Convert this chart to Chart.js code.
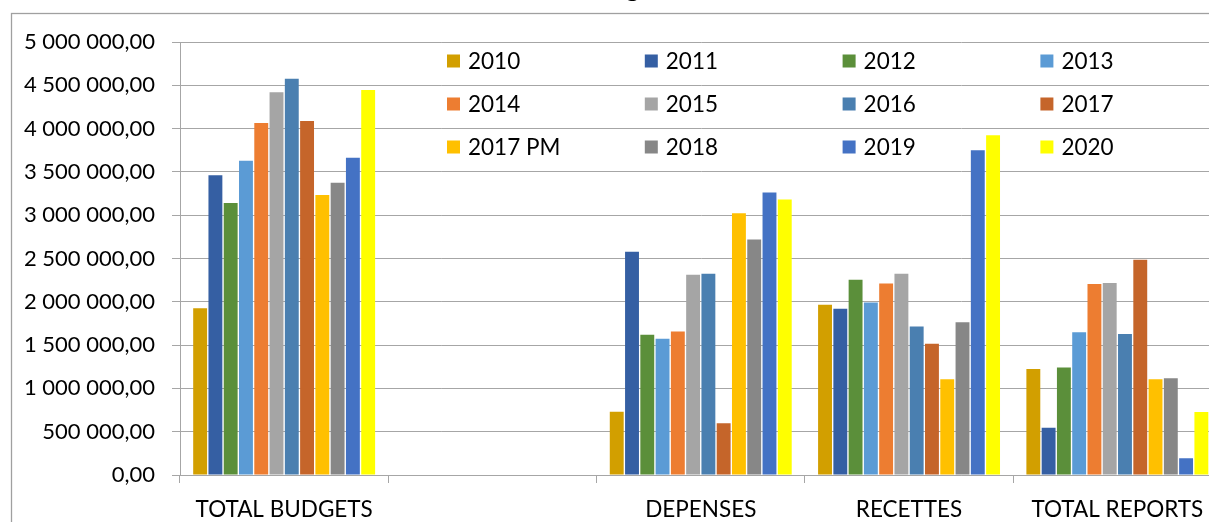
<!DOCTYPE html>
<html>
<head>
<meta charset="utf-8">
<script src="https://cdn.jsdelivr.net/npm/chart.js@4.4.1/dist/chart.umd.min.js"></script>
<style>
  html, body { margin: 0; padding: 0; background: #fff; }
  #wrap { position: relative; width: 1209px; height: 522px; overflow: hidden; }
  #chart { position: absolute; left: 0; top: -30px; }
</style>
</head>
<body>
<div id="wrap"><canvas id="chart" width="1240" height="560"></canvas></div>
<script>
// categories on the x axis (the second one is empty in the sheet)
const categories = ['TOTAL BUDGETS', '', 'DEPENSES', 'RECETTES', 'TOTAL REPORTS'];

// one series per year
const years = ['2010', '2011', '2012', '2013', '2014', '2015', '2016', '2017', '2017 PM', '2018', '2019', '2020'];
const colors = ['#D29F00', '#355FA3', '#5B8F3A', '#5B9BD5', '#ED7D31', '#A5A5A5',
                '#4A7FB0', '#C5652A', '#FFC000', '#878787', '#4472C4', '#FFFF00'];

// values per category, in the order of years
const totalBudgets = [1925000, 3461000, 3141000, 3629000, 4065000, 4419000, 4576000, 4088000, 3233000, 3375000, 3664000, 4446000];
const depenses     = [730000, 2577000, 1619000, 1573000, 1657000, 2311000, 2323000, 598000, 3023000, 2719000, 3262000, 3181000];
const recettes     = [1965000, 1919000, 2254000, 1992000, 2211000, 2323000, 1715000, 1515000, 1106000, 1764000, 3750000, 3924000];
const totalReports = [1224000, 547000, 1240000, 1648000, 2205000, 2217000, 1628000, 2487000, 1105000, 1117000, 193000, 727000];

const yTickLabels = ['0,00', '500 000,00', '1 000 000,00', '1 500 000,00', '2 000 000,00', '2 500 000,00',
                     '3 000 000,00', '3 500 000,00', '4 000 000,00', '4 500 000,00', '5 000 000,00'];

const titleText = 'Budgets';
const FONT = 'Lato, "Open Sans", sans-serif';
const gridColor = '#A6A6A6';

const datasets = years.map((y, i) => ({
    label: y,
    data: [totalBudgets[i], null, depenses[i], recettes[i], totalReports[i]],
    backgroundColor: colors[i],
    borderWidth: 0
}));

// frame + title (mostly cut off at the top of the picture)
const framePlugin = {
    id: 'frame',
    beforeDraw(chart) {
        const ctx = chart.ctx;
        ctx.save();
        ctx.fillStyle = '#fff';
        ctx.fillRect(0, 0, chart.width, chart.height);
        ctx.strokeStyle = '#A0A0A0';
        ctx.lineWidth = 1.3;
        ctx.strokeRect(11.5, 43.5, chart.width + 20, chart.height + 20);
        ctx.fillStyle = '#000';
        ctx.font = 'bold 25px ' + FONT;
        ctx.textAlign = 'center';
        ctx.textBaseline = 'alphabetic';
        ctx.fillText(titleText, 627, 27);
        ctx.restore();
    }
};

// legend drawn inside the plot, 4 columns x 3 rows
const gridLegend = {
    id: 'gridLegend',
    afterDraw(chart) {
        const ctx = chart.ctx;
        const area = chart.chartArea;
        ctx.save();
        ctx.font = '22.5px ' + FONT;
        ctx.textBaseline = 'middle';
        ctx.textAlign = 'left';
        chart.data.datasets.forEach((ds, i) => {
            const col = i % 4, row = Math.floor(i / 4);
            const x = area.left + 267 + col * 197.8;
            const y = area.top + 19 + row * 43;
            ctx.fillStyle = ds.backgroundColor;
            ctx.fillRect(x, y - 6.5, 13, 13);
            ctx.fillStyle = '#000';
            ctx.fillText(ds.label, x + 21, y + 1);
        });
        ctx.restore();
    }
};

new Chart(document.getElementById('chart'), {
    type: 'bar',
    data: { labels: categories, datasets: datasets },
    plugins: [framePlugin, gridLegend],
    options: {
        responsive: false,
        animation: false,
        devicePixelRatio: 1,
        layout: { padding: { top: 72, right: 18.5, bottom: 0, left: 0 } },
        datasets: { bar: { categoryPercentage: 0.88, barPercentage: 0.91 } },
        plugins: {
            legend: { display: false },
            title: { display: false },
            tooltip: { enabled: false }
        },
        scales: {
            x: {
                afterFit: (s) => { s.height = 55; },
                grid: { drawOnChartArea: false, drawTicks: true, tickLength: 8, color: gridColor, offset: true },
                border: { color: gridColor },
                ticks: { color: '#000', font: { family: FONT, size: 22.5 }, padding: 13, maxRotation: 0, autoSkip: false }
            },
            y: {
                min: 0,
                max: 5000000,
                afterFit: (s) => { s.width = 180; },
                grid: { color: gridColor, tickLength: 8, drawTicks: true },
                border: { color: gridColor },
                ticks: {
                    stepSize: 500000,
                    color: '#000',
                    font: { family: FONT, size: 22 },
                    padding: 17,
                    callback: (v, i) => yTickLabels[i]
                }
            }
        }
    }
});
</script>
</body>
</html>
